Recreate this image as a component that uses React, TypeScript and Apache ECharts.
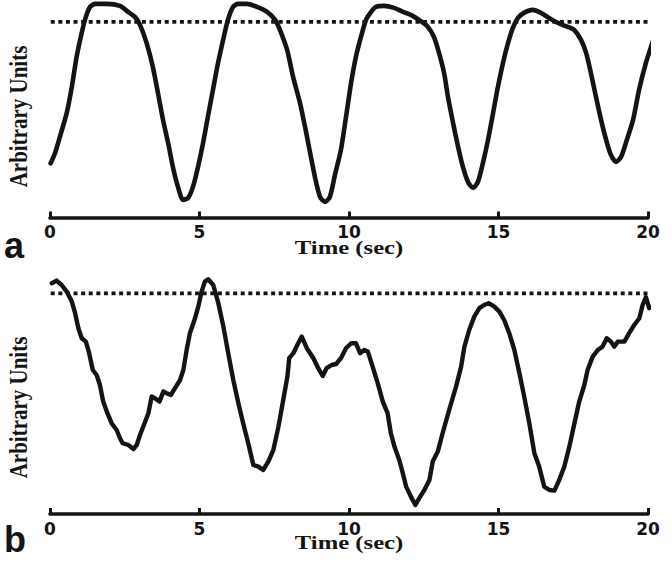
import React, { useEffect, useRef } from 'react';
import * as echarts from 'echarts';

// Panel a: time (sec) and signal (arbitrary units)
const timeA = [0.02, 0.17, 0.33, 0.56, 0.73, 0.89, 1.06, 1.2, 1.34, 1.51, 1.9, 2.34, 2.61, 2.84, 3.01, 3.23, 3.44, 3.61, 3.78, 3.95, 4.11, 4.28, 4.45, 4.62, 4.78, 4.95, 5.12, 5.28, 5.45, 5.62, 5.79, 5.95, 6.12, 6.29, 6.59, 6.92, 7.26, 7.53, 7.69, 7.93, 8.13, 8.36, 8.53, 8.7, 8.86, 9.03, 9.2, 9.36, 9.53, 9.73, 9.9, 10.07, 10.23, 10.4, 10.57, 10.74, 10.9, 11.17, 11.51, 11.81, 12.07, 12.34, 12.64, 12.84, 13.01, 13.18, 13.31, 13.48, 13.65, 13.81, 13.98, 14.15, 14.31, 14.48, 14.65, 14.82, 14.98, 15.15, 15.32, 15.48, 15.65, 15.85, 16.15, 16.42, 16.69, 16.99, 17.32, 17.53, 17.76, 17.93, 18.09, 18.26, 18.43, 18.6, 18.76, 18.93, 19.1, 19.26, 19.5, 19.7, 19.93, 20.1, 20.23];
const signalA = [27.1, 32.3, 40.3, 52.3, 65.3, 80.3, 92.3, 100.3, 105.3, 106.8, 106.8, 105.8, 102.8, 100.3, 96.3, 87.3, 75.3, 62.3, 48.8, 37.3, 25.3, 15.3, 8.8, 9.8, 15.3, 25.3, 37.3, 50.3, 63.8, 77.3, 88.8, 98.8, 105.3, 106.8, 106.8, 105.3, 102.8, 98.8, 93.8, 83.8, 70.3, 57.3, 45.3, 32.3, 20.3, 10.3, 7.8, 10.3, 21.3, 33.8, 50.3, 67.3, 80.3, 90.3, 98.8, 102.8, 105.3, 105.8, 104.8, 102.8, 101.3, 98.8, 95.3, 90.3, 82.3, 72.3, 60.3, 47.3, 35.3, 25.3, 17.8, 14.8, 17.8, 27.3, 38.8, 52.3, 65.3, 77.3, 87.3, 94.8, 99.8, 102.3, 103.8, 102.3, 99.8, 97.3, 95.3, 93.8, 88.8, 82.3, 72.3, 60.3, 48.8, 38.8, 31.3, 27.8, 30.3, 37.3, 48.8, 63.8, 77.3, 85.3, 91.3];

// Panel b
const timeB = [0.06, 0.22, 0.39, 0.56, 0.73, 0.84, 0.95, 1.06, 1.2, 1.31, 1.43, 1.56, 1.67, 1.78, 1.92, 2.06, 2.23, 2.34, 2.43, 2.62, 2.79, 2.9, 3.01, 3.14, 3.29, 3.4, 3.51, 3.66, 3.79, 3.9, 4.04, 4.18, 4.35, 4.46, 4.57, 4.68, 4.85, 4.96, 5.07, 5.18, 5.29, 5.46, 5.63, 5.8, 5.96, 6.13, 6.3, 6.46, 6.63, 6.8, 6.97, 7.13, 7.3, 7.47, 7.64, 7.8, 7.94, 8.0, 8.14, 8.27, 8.42, 8.59, 8.81, 8.97, 9.12, 9.25, 9.42, 9.57, 9.73, 9.9, 10.07, 10.23, 10.37, 10.51, 10.63, 10.79, 10.96, 11.13, 11.29, 11.4, 11.52, 11.68, 11.8, 11.91, 12.07, 12.22, 12.35, 12.52, 12.69, 12.8, 12.97, 13.13, 13.35, 13.58, 13.75, 13.86, 14.02, 14.19, 14.36, 14.52, 14.67, 14.86, 15.03, 15.19, 15.36, 15.53, 15.7, 15.86, 16.03, 16.2, 16.36, 16.53, 16.7, 16.87, 17.03, 17.2, 17.37, 17.54, 17.7, 17.87, 17.98, 18.15, 18.32, 18.48, 18.62, 18.76, 18.87, 18.99, 19.21, 19.37, 19.54, 19.71, 19.82, 19.93, 20.04, 20.13, 20.21, 20.27];
const signalB = [115.4, 116.7, 114.5, 111.2, 106.2, 100.4, 92.9, 87.9, 86.2, 80.4, 72.0, 69.5, 64.5, 56.2, 50.4, 45.4, 42.0, 37.9, 35.4, 34.5, 32.5, 34.5, 39.5, 44.5, 50.4, 58.7, 57.9, 56.2, 61.2, 60.4, 59.5, 62.9, 67.0, 72.0, 82.0, 90.4, 97.9, 103.7, 111.2, 116.2, 117.4, 114.5, 105.4, 93.7, 80.4, 67.0, 55.4, 45.4, 35.4, 24.5, 23.7, 22.0, 26.2, 32.0, 43.7, 57.0, 68.7, 77.9, 80.4, 84.5, 88.7, 82.9, 77.9, 72.9, 69.0, 72.9, 74.5, 75.0, 77.9, 82.9, 85.4, 85.4, 80.4, 82.0, 81.2, 73.7, 65.4, 56.2, 50.4, 40.4, 33.7, 27.0, 20.4, 13.7, 8.7, 4.5, 7.9, 12.0, 17.0, 26.2, 31.2, 40.4, 52.0, 63.7, 73.7, 83.7, 92.0, 98.7, 102.9, 104.5, 105.4, 103.7, 101.2, 97.0, 90.4, 82.0, 70.4, 58.7, 45.4, 30.4, 23.7, 13.7, 12.0, 11.7, 17.0, 23.7, 33.7, 45.4, 56.2, 64.5, 72.0, 78.7, 82.0, 83.7, 87.9, 86.2, 83.7, 86.2, 86.2, 90.4, 94.5, 97.9, 104.5, 108.4, 102.9, 103.7, 101.2, 103.7];

// Dotted reference levels and their extent (sec)
const thresholdA = 97.8;
const thresholdB = 110.3;
const thresholdSpan = [-0.23, 20.17];

const xTicks = [0, 5, 10, 15, 20];
const panelLetters = ['a', 'b'];
const xTitle = 'Time (sec)';
const yTitle = 'Arbitrary Units';

const INK = '#141414';

const pairs = (t: number[], v: number[]) => t.map((x, i) => [x, v[i]]);

export default function App() {
  const ref = useRef<HTMLDivElement>(null);

  useEffect(() => {
    if (!ref.current) return;
    const chart = echarts.init(ref.current, null, { renderer: 'svg' });

    const xAxisFor = (gridIndex: number) => ({
      type: 'value',
      gridIndex,
      min: xTicks[0],
      max: xTicks[xTicks.length - 1],
      interval: xTicks[1] - xTicks[0],
      axisLine: { show: true, lineStyle: { color: INK, width: 3.6 } },
      axisTick: { show: true, inside: true, length: 6, lineStyle: { color: INK, width: 3 } },
      axisLabel: {
        show: true,
        margin: 6,
        fontSize: 17,
        fontWeight: 'bold',
        fontFamily: '"DejaVu Sans", sans-serif',
        color: INK,
        showMinLabel: true,
        showMaxLabel: true,
      },
      splitLine: { show: false },
    });

    const yAxisFor = (gridIndex: number) => ({
      type: 'value',
      gridIndex,
      min: 0,
      max: 100,
      show: false,
    });

    const textEl = (
      text: string,
      x: number,
      y: number,
      size: number,
      family: string,
      align: string,
      extra: any = {}
    ) => ({
      type: 'text',
      x,
      y,
      ...extra,
      style: {
        text,
        fontSize: size,
        fontWeight: 'bold',
        fontFamily: family,
        fill: INK,
        align,
        textAlign: align,
        verticalAlign: 'middle',
        textVerticalAlign: 'middle',
      },
    });

    const serif = '"Liberation Serif", "Times New Roman", serif';
    const sans = '"Liberation Sans", Arial, sans-serif';

    chart.setOption({
      animation: false,
      backgroundColor: '#ffffff',
      grid: [
        { left: 50, right: 24, top: 17.5, height: 200 },
        { left: 50, right: 24, top: 314, height: 200 },
      ],
      xAxis: [xAxisFor(0), xAxisFor(1)],
      yAxis: [yAxisFor(0), yAxisFor(1)],
      series: [
        {
          type: 'line',
          xAxisIndex: 0,
          yAxisIndex: 0,
          data: pairs(timeA, signalA),
          showSymbol: false,
          smooth: 0.25,
          clip: false,
          lineStyle: { color: INK, width: 4.6, join: 'round', cap: 'round' },
          silent: true,
        },
        {
          type: 'line',
          xAxisIndex: 0,
          yAxisIndex: 0,
          data: thresholdSpan.map((t) => [t, thresholdA]),
          showSymbol: false,
          clip: false,
          lineStyle: { color: INK, width: 3.8, type: [4, 3.6], cap: 'butt' },
          silent: true,
        },
        {
          type: 'line',
          xAxisIndex: 1,
          yAxisIndex: 1,
          data: pairs(timeB, signalB),
          showSymbol: false,
          smooth: false,
          clip: false,
          lineStyle: { color: INK, width: 4.4, join: 'round', cap: 'round' },
          silent: true,
        },
        {
          type: 'line',
          xAxisIndex: 1,
          yAxisIndex: 1,
          data: thresholdSpan.map((t) => [t, thresholdB]),
          showSymbol: false,
          clip: false,
          lineStyle: { color: INK, width: 3.8, type: [4, 3.6], cap: 'butt' },
          silent: true,
        },
      ],
      graphic: [
        textEl(panelLetters[0], 4, 245.5, 36, sans, 'left'),
        textEl(panelLetters[1], 4, 539.5, 36, sans, 'left'),
        textEl(xTitle, 349, 247.6, 19, serif, 'center', { scaleX: 1.3 }),
        textEl(xTitle, 349, 542.6, 19, serif, 'center', { scaleX: 1.3 }),
        textEl(yTitle, 18, 116.5, 21, serif, 'center', { rotation: Math.PI / 2, scaleY: 1.2 }),
        textEl(yTitle, 18, 407.5, 21, serif, 'center', { rotation: Math.PI / 2, scaleY: 1.2 }),
      ],
    });

    return () => chart.dispose();
  }, []);

  return (
    <div
      ref={ref}
      style={{ position: 'fixed', left: 0, top: 0, width: 672, height: 562, background: '#fff' }}
    />
  );
}
